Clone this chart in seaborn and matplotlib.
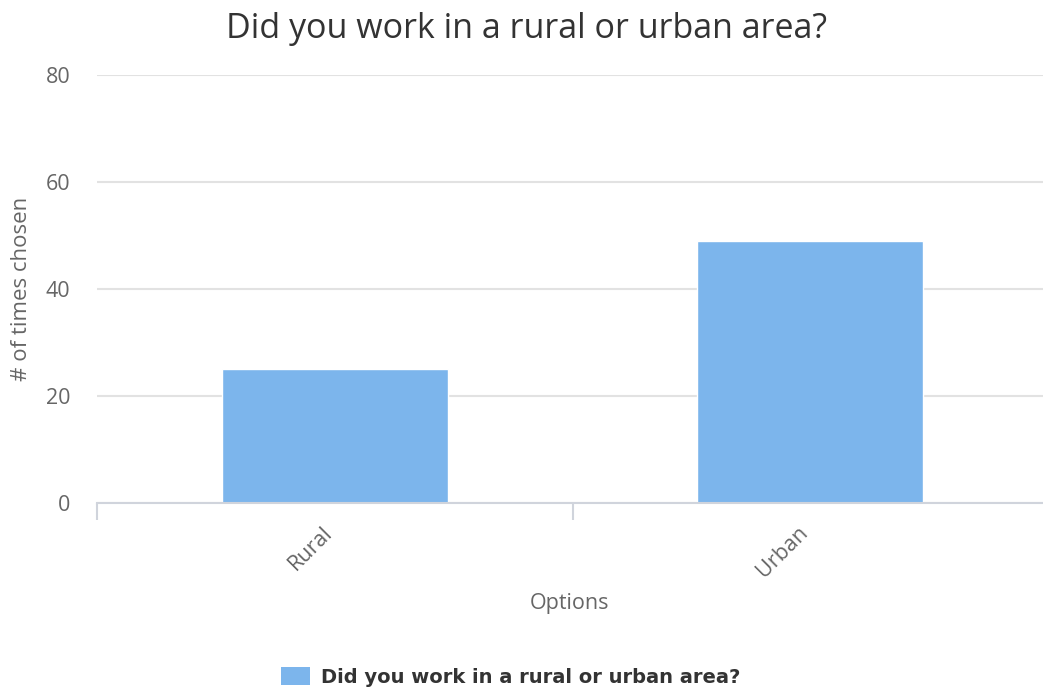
import matplotlib
matplotlib.use("Agg")
import matplotlib.pyplot as plt
from matplotlib.patches import Patch
from matplotlib.transforms import ScaledTranslation
import seaborn as sns
import pandas as pd

# Survey answers and how often each was chosen
options = ["Rural", "Urban"]
counts = [25, 49]
series_name = "Did you work in a rural or urban area?"

sns.set_theme(style="white")
plt.rcParams["font.family"] = ["Open Sans", "DejaVu Sans"]

df = pd.DataFrame({"Options": options, "count": counts})

fig = plt.figure(figsize=(10.43, 6.92), dpi=100)
ax = fig.add_axes([0.093, 0.273, 0.907, 0.6186])

sns.barplot(data=df, x="Options", y="count", color="#7cb5ec", saturation=1,
            width=0.475, ax=ax, zorder=3)

ax.set_ylim(0, 80)
ax.set_xlim(-0.498, 1.489)
ax.set_yticks([0, 20, 40, 60, 80])
ax.yaxis.grid(True, color="#e2e2e2", linewidth=1.5, zorder=0)
ax.xaxis.grid(False)
for s in ["top", "right", "left"]:
    ax.spines[s].set_visible(False)
ax.spines["bottom"].set_color("#d0d4dc")
ax.spines["bottom"].set_linewidth(1.5)
ax.spines["bottom"].set_zorder(4)

# category boundary ticks below the axis line
ax.set_xticks([-0.5, 0.5], minor=True)
ax.tick_params(axis="x", which="minor", length=12, width=1.5, color="#d0d4dc",
               direction="out", bottom=True)
ax.tick_params(axis="x", which="major", length=0, pad=14)
ax.tick_params(axis="y", length=0, pad=19, labelcolor="#666666", labelsize=15.5)

ax.set_xticks([0, 1])
ax.set_xticklabels(options, rotation=45, ha="right", va="top",
                   rotation_mode="anchor", color="#666666", fontsize=15.5)
# nudge the slanted labels so they end at the category centre
shift = ScaledTranslation(-0.13, 0, fig.dpi_scale_trans)
for lab in ax.get_xticklabels():
    lab.set_transform(lab.get_transform() + shift)

ax.set_xlabel("Options", color="#666666", fontsize=15.5, labelpad=8)
ax.set_ylabel("# of times chosen", color="#666666", fontsize=16, labelpad=10)

fig.suptitle(series_name, x=0.505, y=0.982, fontsize=24.5, color="#333333", va="top")

handle = Patch(facecolor="#7cb5ec", edgecolor="none")
fig.legend([handle], [series_name], loc="center", bbox_to_anchor=(0.49, 0.022),
           frameon=False, handlelength=1.45, handleheight=1.1, handletextpad=0.6,
           prop={"family": "DejaVu Sans", "weight": "bold", "size": 14},
           labelcolor="#333333")

fig.savefig("out.png", dpi=100)
